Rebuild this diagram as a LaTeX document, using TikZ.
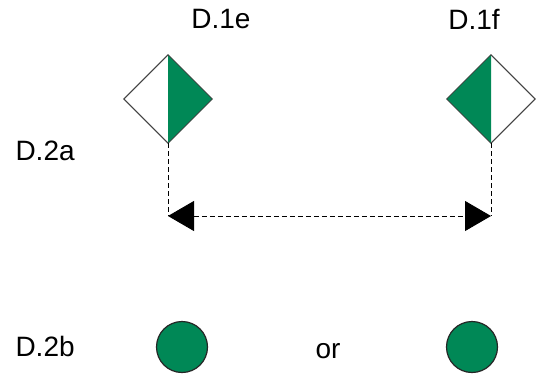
\documentclass[tikz,border=0pt]{standalone}
\usepackage{fontspec}
\setmainfont{Liberation Sans}
\usetikzlibrary{arrows.meta,shapes.geometric}
\definecolor{signgreen}{RGB}{0,136,86}

\begin{document}
\begin{tikzpicture}[x=1pt, y=-1pt,
    every node/.style={font=\fontsize{28}{32}\selectfont},
    sign/.style={diamond, draw=black!75, line width=0.8pt, inner sep=0pt,
                 minimum width=88pt, minimum height=88pt, fill=white},
    lamp/.style={circle, draw=black!85, line width=1.2pt, fill=signgreen,
                 inner sep=0pt, minimum size=51pt},
    guide/.style={black, line width=0.9pt, dash pattern=on 5pt off 3pt},
    arr/.style={guide, {Triangle[length=26pt, width=30pt]}-{Triangle[length=26pt, width=30pt]}},
  ]
  \useasboundingbox (0,0) rectangle (538,376);
  % the two signs on top
  \node[sign] (e) at (168,99) {};
  \node[sign] (f) at (491,99) {};
  \fill[signgreen] (e.north) -- (e.east) -- (e.south) -- cycle;
  \fill[signgreen] (f.north) -- (f.west) -- (f.south) -- cycle;
  \draw[black!75, line width=0.8pt] (e.north) -- (e.east) -- (e.south) -- (e.west) -- cycle;
  \draw[black!75, line width=0.8pt] (f.north) -- (f.east) -- (f.south) -- (f.west) -- cycle;
  \node (le) at (221,19) {D.1e};
  \node (lf) at (474,19) {D.1f};
  \node[anchor=west] (la) at (12,151) {D.2a};
  \node[anchor=west] (lb) at (12,346) {D.2b};
  % dashed links between the signs
  \coordinate (ee) at (168,216);
  \coordinate (fe) at (491,216);
  \draw[guide] (e.south) -- (ee);
  \draw[guide] (f.south) -- (fe);
  \draw[arr] (ee) -- (fe);
  % the two lamps
  \node[lamp] (ge) at (182,347) {};
  \node[lamp] (gf) at (472,347) {};
  \node (or) at (328,351) {or};
\end{tikzpicture}
\end{document}
